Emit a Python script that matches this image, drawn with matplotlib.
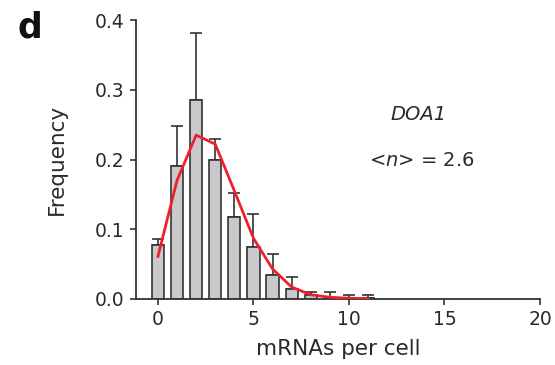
import numpy as np
import matplotlib
matplotlib.use("Agg")
import matplotlib.pyplot as plt

plt.rcParams['font.family'] = ['DejaVu Sans']
plt.rcParams['mathtext.fontset'] = 'dejavusans'

# mRNA copy-number histogram for DOA1 with fitted distribution
mrna_counts = [0, 1, 2, 3, 4, 5, 6, 7, 8, 9, 10, 11]
frequency = [0.077, 0.190, 0.285, 0.200, 0.117, 0.074, 0.035, 0.014, 0.006, 0.002, 0.001, 0.002]
freq_upper = [0.086, 0.248, 0.382, 0.230, 0.152, 0.122, 0.064, 0.032, 0.0096, 0.0096, 0.006, 0.006]
fit_curve = [0.061, 0.170, 0.235, 0.222, 0.155, 0.087, 0.043, 0.017, 0.006, 0.0024, 0.001, 0.0005]

x_ticks = [0, 5, 10, 15, 20]
y_ticks = [0.0, 0.1, 0.2, 0.3, 0.4]

err_up = np.array(freq_upper) - np.array(frequency)
err = np.vstack([np.zeros_like(err_up), err_up])

fig = plt.figure(figsize=(5.55, 3.65), dpi=100)
ax = fig.add_axes([0.245, 0.181, 0.728, 0.764])

ax.bar(mrna_counts, frequency, width=0.64, color='#c9c9cc', edgecolor='#333333',
       linewidth=1.2, zorder=2)
ax.errorbar(mrna_counts, frequency, yerr=err, fmt='none', ecolor='#333333',
            elinewidth=1.2, capsize=4.5, capthick=1.2, zorder=1)
ax.plot(mrna_counts, fit_curve, color='#ee2030', linewidth=2, zorder=3)

ax.set_xlim(-1.15, 20)
ax.set_ylim(0, 0.4)
ax.set_xticks(x_ticks)
ax.set_yticks(y_ticks)
ax.set_yticklabels([f'{v:.1f}' for v in y_ticks])

for s in ['top', 'right']:
    ax.spines[s].set_visible(False)
for s in ['left', 'bottom']:
    ax.spines[s].set_color('#333333')
    ax.spines[s].set_linewidth(1.3)
ax.tick_params(direction='out', length=4, width=1.2, color='#333333',
               labelsize=13.5, labelcolor='#2a2a2a', pad=4)

ax.set_xlabel('mRNAs per cell', fontsize=15.5, color='#2a2a2a', labelpad=7)
ax.set_ylabel('Frequency', fontsize=15.5, color='#2a2a2a', labelpad=20)

ax.text(0.70, 0.663, 'DOA1', transform=ax.transAxes, fontsize=14, style='italic',
        color='#2a2a2a', ha='center', va='center')
ax.text(0.708, 0.498, r'<$n$> = 2.6', transform=ax.transAxes, fontsize=14,
        color='#2a2a2a', ha='center', va='center')

fig.text(0.054, 0.925, 'd', fontsize=25, fontweight='bold', color='#111111',
         ha='center', va='center')

fig.savefig('out.png', dpi=100)
